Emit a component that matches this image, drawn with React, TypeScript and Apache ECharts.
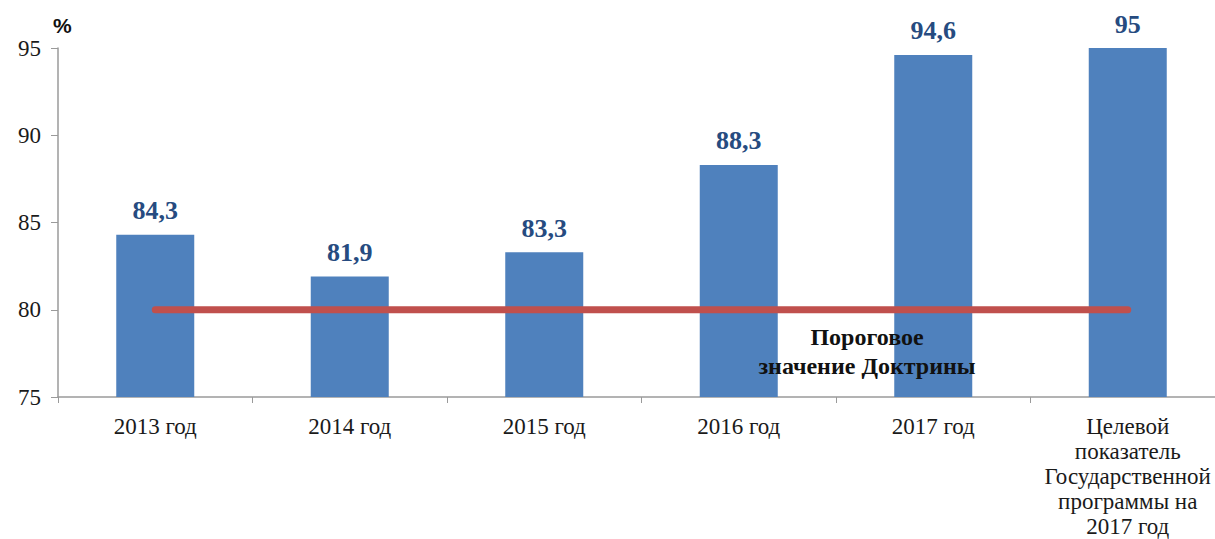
import React, { useEffect, useRef } from "react";
import * as echarts from "echarts";

const categories = [
  "2013 год",
  "2014 год",
  "2015 год",
  "2016 год",
  "2017 год",
  "Целевой\nпоказатель\nГосударственной\nпрограммы на\n2017 год",
];
const values = [84.3, 81.9, 83.3, 88.3, 94.6, 95];
const thresholdValues = [80, 80, 80, 80, 80, 80];
const thresholdLabel = "Пороговое\nзначение Доктрины";
const yTicks = { min: 75, max: 95, interval: 5 };
const unitLabel = "%";

export default function App() {
  const ref = useRef<HTMLDivElement>(null);
  useEffect(() => {
    if (!ref.current) return;
    const chart = echarts.init(ref.current, null, { renderer: "svg" });
    const serif = "Liberation Serif";
    chart.setOption({
      animation: false,
      backgroundColor: "#ffffff",
      textStyle: { fontFamily: serif },
      grid: { left: 58, right: 15, top: 48, bottom: 142, containLabel: false },
      xAxis: {
        type: "category",
        data: categories,
        axisLine: { lineStyle: { color: "#9a9a9a", width: 1.5 } },
        axisTick: { show: true, alignWithLabel: false, length: 6, lineStyle: { color: "#9a9a9a" } },
        axisLabel: {
          interval: 0,
          fontFamily: serif,
          fontSize: 23,
          color: "#1a1a1a",
          lineHeight: 25,
          margin: 17,
        },
      },
      yAxis: {
        type: "value",
        min: yTicks.min,
        max: yTicks.max,
        interval: yTicks.interval,
        axisLine: { show: true, lineStyle: { color: "#9a9a9a", width: 1.5 } },
        axisTick: { show: true, length: 7, lineStyle: { color: "#9a9a9a" } },
        splitLine: { show: false },
        axisLabel: { fontFamily: serif, fontSize: 23, color: "#1a1a1a", margin: 17 },
      },
      series: [
        {
          type: "bar",
          data: values,
          barWidth: 78,
          itemStyle: { color: "#4f81bd" },
          label: {
            show: true,
            position: "top",
            distance: 11,
            fontFamily: serif,
            fontWeight: "bold",
            fontSize: 26,
            color: "#264b80",
            formatter: (p: any) => String(p.value).replace(".", ","),
          },
        },
        {
          type: "line",
          data: thresholdValues,
          symbol: "none",
          lineStyle: { color: "#c0504d", width: 7, cap: "round" },
          z: 5,
        },
      ],
      graphic: [
        {
          type: "text",
          left: 53,
          top: 15,
          style: { text: unitLabel, fontFamily: "Liberation Sans", fontWeight: "bold", fontSize: 21, fill: "#111" },
        },
        {
          type: "text",
          x: 867,
          y: 322,
          style: {
            text: thresholdLabel,
            fontFamily: serif,
            fontWeight: "bold",
            fontSize: 24,
            fill: "#111",
            align: "center",
            lineHeight: 29,
          },
          z: 10,
        },
      ],
    });
    return () => chart.dispose();
  }, []);
  return (
    <div style={{ position: "fixed", left: 0, top: 0, width: 1215, height: 539, overflow: "hidden", background: "#fff" }}>
      <div ref={ref} style={{ width: 1240, height: 539 }} />
    </div>
  );
}
